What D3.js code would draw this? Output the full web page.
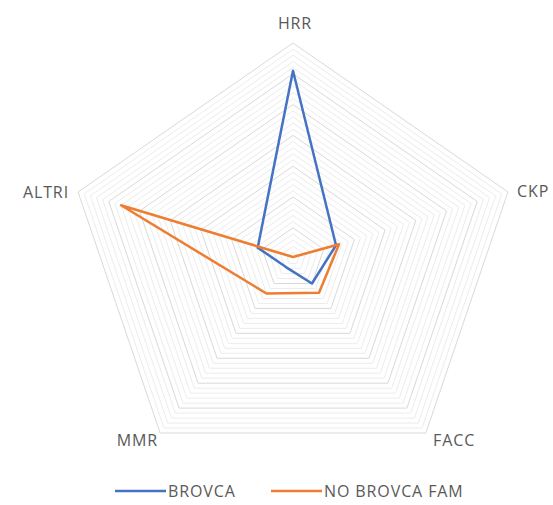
<!DOCTYPE html>
<html>
<head>
<meta charset="utf-8">
<script src="https://cdn.jsdelivr.net/npm/d3@7"></script>
<style>
  body { margin: 0; background: #fff; }
  text { font-family: "Open Sans", "Liberation Sans", sans-serif; fill: #595959; letter-spacing: 0.9px; }
</style>
</head>
<body>
<svg id="chart"></svg>
<script>
// categories (clockwise from top)
const categories = ["HRR", "CKP", "FACC", "MMR", "ALTRI"];
const seriesNames = ["BROVCA", "NO BROVCA FAM"];
// values (axis 0..7, not labelled)
const brovca = [6.1, 1.4, 1.0, 0.35, 1.15];
const noBrovcaFam = [0.05, 1.5, 1.37, 1.4, 5.6];
const colors = ["#4472C4", "#ED7D31"];

const width = 553, height = 505;
const cx = 293, cy = 258.6;
const maxVal = 7, majorStep = 1, minorPerMajor = 5;

const svg = d3.select("#chart").attr("width", width).attr("height", height);

// picture is slightly stretched horizontally
const rY = d3.scaleLinear().domain([0, maxVal]).range([0, 215.6]);
const rX = d3.scaleLinear().domain([0, maxVal]).range([0, 226]);

const angle = d3.scaleLinear().domain([0, categories.length]).range([0, 2 * Math.PI]);

function pt(i, v) {
  const a = angle(i);
  return [cx + Math.sin(a) * rX(v), cy - Math.cos(a) * rY(v)];
}

// grid: minor then major pentagons
const minorLevels = d3.range(1, maxVal * minorPerMajor + 1).map(d => d / minorPerMajor);
const grid = svg.append("g");
grid.selectAll(".minor")
  .data(minorLevels.filter(d => Math.abs(d - Math.round(d)) > 1e-6))
  .join("polygon")
  .attr("class", "minor")
  .attr("points", d => categories.map((c, i) => pt(i, d).join(",")).join(" "))
  .attr("fill", "none")
  .attr("stroke", "#ececec")
  .attr("stroke-width", 1);

grid.selectAll(".major")
  .data(d3.range(majorStep, maxVal + majorStep, majorStep))
  .join("polygon")
  .attr("class", "major")
  .attr("points", d => categories.map((c, i) => pt(i, d).join(",")).join(" "))
  .attr("fill", "none")
  .attr("stroke", "#d9d9d9")
  .attr("stroke-width", 1);

// category labels
const labelPos = [
  { x: 295, y: 23, anchor: "middle" },
  { x: 517, y: 191, anchor: "start" },
  { x: 433, y: 440, anchor: "start" },
  { x: 158, y: 440, anchor: "end" },
  { x: 69, y: 192, anchor: "end" }
];
svg.append("g").selectAll("text")
  .data(categories)
  .join("text")
  .attr("x", (d, i) => labelPos[i].x)
  .attr("y", (d, i) => labelPos[i].y)
  .attr("dy", "0.35em")
  .attr("text-anchor", (d, i) => labelPos[i].anchor)
  .attr("font-size", 16)
  .text(d => d);

// series
const series = [brovca, noBrovcaFam];
svg.append("g").selectAll("polygon")
  .data(series)
  .join("polygon")
  .attr("points", vals => vals.map((v, i) => pt(i, v).join(",")).join(" "))
  .attr("fill", "none")
  .attr("stroke", (d, i) => colors[i])
  .attr("stroke-width", 2.5)
  .attr("stroke-linejoin", "round");

// legend
const legendY = 491;
const legendX = [115, 271];
const legend = svg.append("g").selectAll("g")
  .data(seriesNames)
  .join("g")
  .attr("transform", (d, i) => `translate(${legendX[i]},${legendY})`);
legend.append("line")
  .attr("x1", 0).attr("x2", 51)
  .attr("stroke", (d, i) => colors[i])
  .attr("stroke-width", 2.5);
legend.append("text")
  .attr("x", 53)
  .attr("dy", "0.35em")
  .attr("font-size", 16)
  .text(d => d);
</script>
</body>
</html>
